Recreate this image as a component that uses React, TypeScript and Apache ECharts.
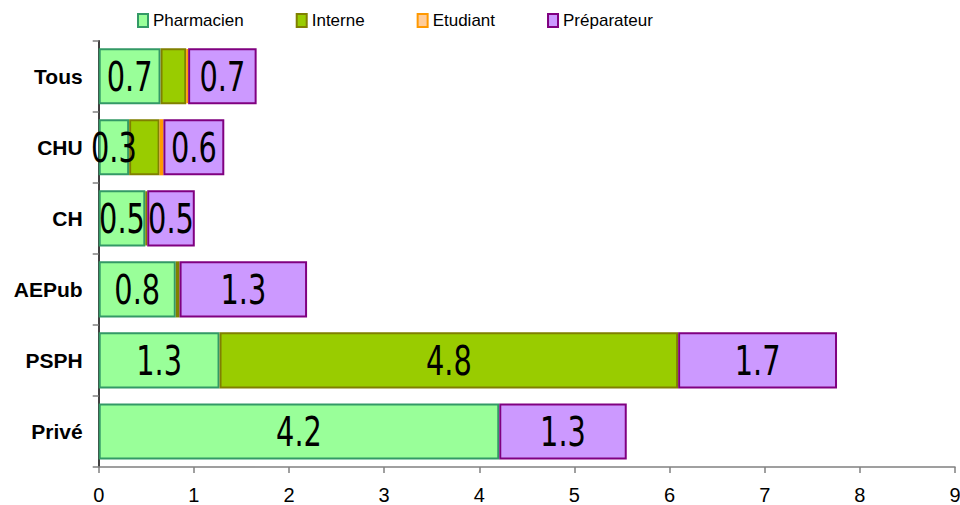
import React, { useEffect, useRef } from "react";
import * as echarts from "echarts";

const categories = ["Tous", "CHU", "CH", "AEPub", "PSPH", "Privé"];
const pharmacien = [0.65, 0.32, 0.49, 0.81, 1.27, 4.21];
const interne = [0.27, 0.32, 0.02, 0.04, 4.82, 0];
const etudiant = [0.02, 0.04, 0, 0, 0, 0];
const preparateur = [0.72, 0.64, 0.5, 1.34, 1.67, 1.34];
const xTicks = [0, 1, 2, 3, 4, 5, 6, 7, 8, 9];

const seriesDefs = [
  { name: "Pharmacien", data: pharmacien, fill: "#99FF99", border: "#339966", minLabel: 0 },
  { name: "Interne", data: interne, fill: "#99CC00", border: "#808000", minLabel: 1 },
  { name: "Etudiant", data: etudiant, fill: "#FFCC99", border: "#FF9900", minLabel: 99 },
  { name: "Préparateur", data: preparateur, fill: "#CC99FF", border: "#800080", minLabel: 0 },
];

// label table built from the series arrays: [start, end, categoryIndex, value]
function buildLabels() {
  const rows: number[][] = [];
  categories.forEach((_, ci) => {
    let acc = 0;
    seriesDefs.forEach((s) => {
      const v = s.data[ci];
      if (v > 0 && v >= s.minLabel) rows.push([acc, acc + v, ci, v]);
      acc += v;
    });
  });
  return rows;
}

export default function App() {
  const ref = useRef<HTMLDivElement>(null);
  useEffect(() => {
    if (!ref.current) return;
    const chart = echarts.init(ref.current, null, { renderer: "svg" });
    chart.setOption({
      animation: false,
      legend: {
        top: 12,
        left: 137,
        padding: 0,
        itemWidth: 10,
        itemHeight: 13,
        itemGap: 52,
        icon: "rect",
        textStyle: { fontFamily: "Liberation Sans, Arial", fontSize: 17, color: "#000" },
        data: seriesDefs.map((s) => ({
          name: s.name,
          itemStyle: { color: s.fill, borderColor: s.border, borderWidth: 2 },
        })),
      },
      grid: { left: 98.7, right: 5, top: 40.7, bottom: 38, outerBoundsMode: "none", containLabel: false },
      xAxis: {
        type: "value",
        min: xTicks[0],
        max: xTicks[xTicks.length - 1],
        interval: 1,
        splitLine: { show: false },
        axisLine: { show: true, lineStyle: { color: "#808080", width: 1.5 } },
        axisTick: { show: true, length: 6, lineStyle: { color: "#808080", width: 1.5 } },
        axisLabel: { fontFamily: "Liberation Sans, Arial", fontSize: 20, color: "#000", margin: 18 },
      },
      yAxis: {
        type: "category",
        data: categories,
        inverse: true,
        axisLine: { show: true, lineStyle: { color: "#000", width: 1.5 } },
        axisTick: { show: true, length: 6, lineStyle: { color: "#808080", width: 1.5 } },
        axisLabel: { fontFamily: "Liberation Sans, Arial", fontSize: 21, fontWeight: "bold", color: "#000", margin: 16 },
      },
      series: [
        ...seriesDefs.map((s) => ({
          name: s.name,
          type: "bar",
          stack: "total",
          barCategoryGap: "21%",
          z: 2,
          data: s.data.map((v) => (v === 0 ? "-" : v)),
          itemStyle: { color: s.fill, borderColor: s.border, borderWidth: 2 },
        })),
        {
          name: "labels",
          type: "custom",
          clip: false,
          silent: true,
          z: 10,
          encode: { x: [0, 1], y: 2 },
          data: buildLabels(),
          renderItem: (_params: any, api: any) => {
            const x0 = api.value(0);
            const x1 = api.value(1);
            const ci = api.value(2);
            const v = api.value(3);
            const pt = api.coord([(x0 + x1) / 2, ci]);
            return {
              type: "text",
              x: pt[0],
              y: pt[1] + 1,
              scaleX: 0.8,
              z2: 100,
              style: {
                text: (Math.round(v * 10) / 10).toFixed(1),
                x: 0,
                y: 0,
                align: "center",
                verticalAlign: "middle",
                fontFamily: "DejaVu Sans Condensed, DejaVu Sans",
                fontSize: 40,
                fill: "#000",
              },
            };
          },
        },
      ],
    });
    return () => chart.dispose();
  }, []);
  return <div ref={ref} style={{ width: 960, height: 505, position: "absolute", left: 0, top: 0 }} />;
}
